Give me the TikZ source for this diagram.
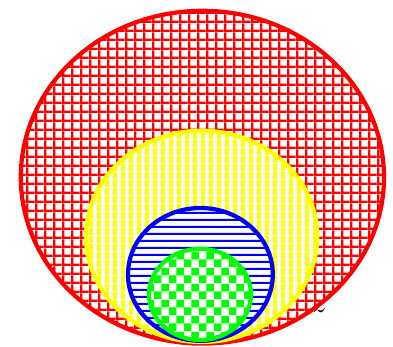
\documentclass[tikz,border=0pt]{standalone}
\usetikzlibrary{patterns}
\definecolor{setred}{RGB}{255,0,0}
\definecolor{setyellow}{RGB}{255,255,0}
\definecolor{setblue}{RGB}{0,0,255}
\definecolor{setgreen}{RGB}{0,255,0}
\pgfdeclarepatternformonly{redgrid}{\pgfpointorigin}{\pgfqpoint{6.3pt}{6.3pt}}{\pgfqpoint{6.3pt}{6.3pt}}{%
  \pgfpathrectangle{\pgfpointorigin}{\pgfqpoint{1.8pt}{6.3pt}}%
  \pgfpathrectangle{\pgfpointorigin}{\pgfqpoint{6.3pt}{1.8pt}}%
  \pgfusepath{fill}}
\pgfdeclarepatternformonly{uprights}{\pgfpointorigin}{\pgfqpoint{5.8pt}{5.8pt}}{\pgfqpoint{5.8pt}{5.8pt}}{%
  \pgfpathrectangle{\pgfpointorigin}{\pgfqpoint{3.1pt}{5.8pt}}%
  \pgfusepath{fill}}
\pgfdeclarepatternformonly{flats}{\pgfpointorigin}{\pgfqpoint{5.3pt}{5.3pt}}{\pgfqpoint{5.3pt}{5.3pt}}{%
  \pgfpathrectangle{\pgfpointorigin}{\pgfqpoint{5.3pt}{1.6pt}}%
  \pgfusepath{fill}}
\pgfdeclarepatternformonly{bigchecker}{\pgfpointorigin}{\pgfqpoint{11pt}{11pt}}{\pgfqpoint{11pt}{11pt}}{%
  \pgfpathrectangle{\pgfpointorigin}{\pgfqpoint{5.5pt}{5.5pt}}%
  \pgfpathrectangle{\pgfqpoint{5.5pt}{5.5pt}}{\pgfqpoint{5.5pt}{5.5pt}}%
  \pgfusepath{fill}}

\begin{document}
\begin{tikzpicture}[line cap=round,line join=round,x=1cm,y=1cm,
  setrim/.style={line width=3pt,preaction={fill=white}}]
\useasboundingbox (0,0) rectangle (9.825,8.65);
% label mostly hidden under the sets
\node[font=\huge,anchor=base,inner sep=0pt] (zlabel) at (8.0,0.84) {$z$};
% outer set
\draw[setrim,draw=setred,pattern=redgrid,pattern color=setred] (5.06,4.22) ellipse (4.54 and 4.16);
\draw[setrim,draw=setyellow,pattern=uprights,pattern color=setyellow] (5.04,2.74) ellipse (2.89 and 2.64);
\draw[setrim,draw=setblue,pattern=flats,pattern color=setblue] (5.01,1.79) ellipse (1.81 and 1.66);
% innermost set
\draw[setrim,draw=setgreen,pattern=bigchecker,pattern color=setgreen] (5.0,1.29) ellipse (1.275 and 1.14);
\end{tikzpicture}
\end{document}
